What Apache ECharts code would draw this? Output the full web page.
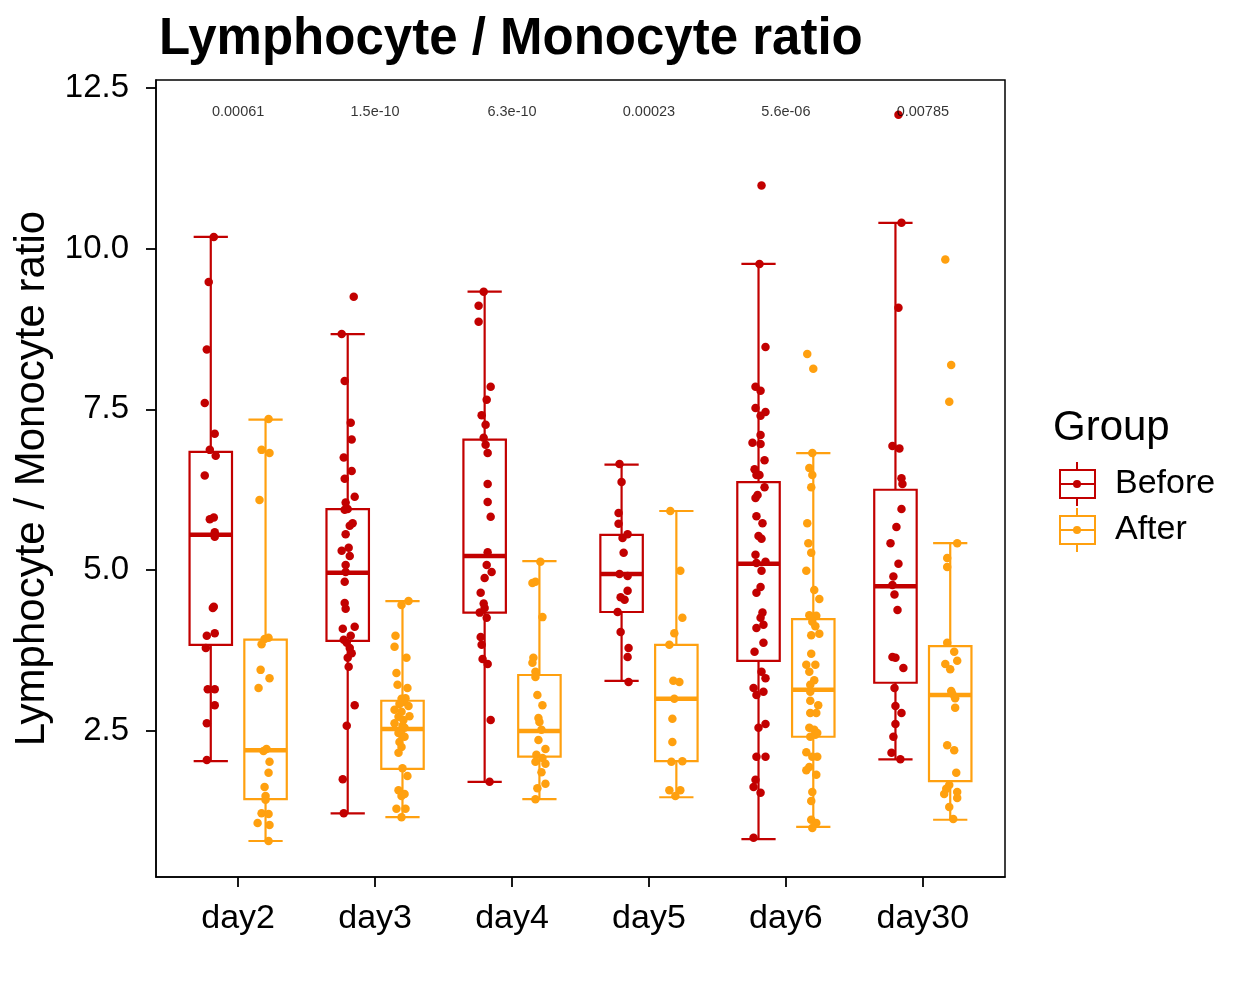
<!DOCTYPE html>
<html><head><meta charset="utf-8">
<script src="https://cdn.jsdelivr.net/npm/echarts@6/dist/echarts.min.js"></script>
<style>html,body{margin:0;padding:0;background:#fff}#c{width:1248px;height:998px}</style>
</head><body><div id="c"></div>
<script>
// ---------------- data ----------------
const categories = ['day2', 'day3', 'day4', 'day5', 'day6', 'day30'];
const pValues = ['0.00061', '1.5e-10', '6.3e-10', '0.00023', '5.6e-06', '0.00785'];
const yTicks = [2.5, 5, 7.5, 10, 12.5];
const groups = ['Before', 'After'];

// box statistics: [lower whisker, Q1, median, Q3, upper whisker]
const beforeStats = [
  [2.03, 3.84, 5.55, 6.84, 10.18],
  [1.22, 3.90, 4.96, 5.95, 8.67],
  [1.71, 4.34, 5.22, 7.03, 9.33],
  [3.28, 4.35, 4.94, 5.55, 6.64],
  [0.82, 3.59, 5.10, 6.37, 9.76],
  [2.06, 3.25, 4.75, 6.25, 10.40]
];
const afterStats = [
  [0.79, 1.44, 2.20, 3.92, 7.34],
  [1.16, 1.91, 2.53, 2.97, 4.52],
  [1.44, 2.10, 2.50, 3.37, 5.14],
  [1.47, 2.03, 3.00, 3.84, 5.92],
  [1.01, 2.41, 3.14, 4.24, 6.82],
  [1.12, 1.72, 3.06, 3.82, 5.42]
];

// individual observations: [value, jitter (hundredths of a category)]
const day2Before = [[10.18,2.2],[9.48,-1.5],[8.43,-2.9],[7.60,-4.4],[7.12,2.9],[6.87,-0.7],[6.78,3.6],[6.47,-4.4],[5.82,2.2],[5.79,-0.7],[5.59,2.9],[5.52,2.9],[4.43,2.2],[4.41,1.5],[4.02,2.9],[3.98,-2.9],[3.79,-3.6],[3.15,-2.2],[3.15,2.9],[2.90,2.9],[2.62,-2.9],[2.05,-2.9]];
const day2After = [[7.35,2.2],[6.87,-2.9],[6.82,2.9],[6.09,-4.4],[3.95,2.2],[3.93,-0.7],[3.85,-2.9],[3.45,-3.6],[3.32,2.9],[3.17,-5.1],[2.22,0.7],[2.19,-1.5],[2.02,2.9],[1.85,2.2],[1.63,-0.7],[1.49,0],[1.43,0],[1.22,-2.9],[1.21,2.2],[1.07,-5.8],[1.04,2.9],[0.79,2.2]];
const day3Before = [[9.25,4.4],[8.67,-4.4],[7.94,-2.2],[7.29,2.2],[7.03,2.9],[6.75,-2.9],[6.54,2.9],[6.42,-2.2],[6.14,5.1],[6.05,-1.5],[5.95,0],[5.94,-2.2],[5.73,3.6],[5.69,1.5],[5.56,-1.5],[5.35,0.7],[5.30,-4.4],[5.22,1.5],[5.08,-1.5],[4.97,-1.5],[4.82,-2.2],[4.49,-2.2],[4.40,-1.5],[4.12,5.1],[4.09,-3.6],[3.98,2.2],[3.92,-2.9],[3.87,-0.7],[3.79,1.5],[3.71,2.9],[3.64,0],[3.50,0.7],[2.90,5.1],[2.58,-0.7],[1.75,-3.6],[1.22,-2.9]];
const day3After = [[4.52,4.4],[4.46,-0.7],[3.98,-5.1],[3.81,-5.8],[3.64,2.9],[3.40,-4.4],[3.22,-3.6],[3.17,3.6],[3.01,2.2],[3.00,-0.7],[2.95,0.7],[2.92,-2.2],[2.89,4.4],[2.83,-5.8],[2.80,-0.7],[2.73,5.1],[2.72,-2.9],[2.67,0.7],[2.62,-5.8],[2.58,0],[2.55,1.5],[2.50,-1.5],[2.47,-2.9],[2.44,-0.7],[2.41,1.5],[2.33,-2.2],[2.25,-0.7],[2.16,-2.9],[1.92,0],[1.80,3.6],[1.58,-2.9],[1.52,1.5],[1.49,-0.7],[1.29,-4.4],[1.29,2.2],[1.16,-0.7]];
const day4Before = [[9.33,-0.7],[9.11,-4.4],[8.86,-4.4],[7.85,4.4],[7.65,1.5],[7.41,-2.2],[7.26,0.7],[7.06,-0.7],[6.95,0.7],[6.82,2.2],[6.34,2.2],[6.06,2.2],[5.83,4.4],[5.28,2.2],[5.08,1.5],[4.97,5.1],[4.88,0],[4.65,-2.9],[4.48,-0.7],[4.41,0],[4.34,-3.6],[4.26,1.5],[3.96,-2.9],[3.84,-2.2],[3.62,-1.5],[3.54,2.2],[2.67,4.4],[1.71,3.6]];
const day4After = [[5.13,0.7],[4.82,-2.9],[4.80,-5.1],[4.27,2.2],[3.64,-4.4],[3.56,-5.1],[3.42,-2.9],[3.34,-2.9],[3.06,-1.5],[2.90,2.2],[2.70,-0.7],[2.64,0],[2.52,1.5],[2.36,-0.7],[2.22,4.4],[2.13,-2.2],[2.08,2.2],[2.02,-2.9],[1.99,4.4],[1.86,1.5],[1.68,4.4],[1.61,-1.5],[1.44,-2.9]];
const day5Before = [[6.65,-1.5],[6.37,0],[5.89,-2.2],[5.72,-2.2],[5.56,4.4],[5.50,0.7],[5.27,1.5],[4.94,-1.5],[4.91,4.4],[4.68,4.4],[4.58,-0.7],[4.54,2.2],[4.35,-2.9],[4.04,-0.7],[3.79,5.1],[3.65,4.4],[3.26,5.1]];
const day5After = [[5.92,-4.4],[4.99,2.9],[4.26,4.4],[4.02,-1.5],[3.84,-5.1],[3.28,-2.2],[3.26,2.2],[3.00,-1.5],[2.69,-2.9],[2.33,-2.9],[2.03,4.4],[2.02,-3.6],[1.58,-5.1],[1.58,2.9],[1.49,-0.7]];
const day6Before = [[10.98,2.2],[9.76,0.7],[8.47,5.1],[7.85,-2.2],[7.79,1.5],[7.52,-2.2],[7.46,5.1],[7.40,1.5],[7.10,1.5],[6.98,-4.4],[6.96,1.5],[6.71,4.4],[6.57,-2.9],[6.48,0.7],[6.48,-1.5],[6.29,4.4],[6.17,-0.7],[6.12,-2.2],[5.84,-1.5],[5.73,2.9],[5.53,0],[5.49,2.2],[5.24,-2.2],[5.13,5.1],[5.11,-1.5],[4.99,2.2],[4.74,1.5],[4.65,-1.5],[4.34,2.9],[4.26,1.5],[4.15,3.6],[4.10,-1.5],[3.87,3.6],[3.73,-2.9],[3.42,2.2],[3.32,5.1],[3.17,-3.6],[3.11,3.6],[3.06,-1.5],[2.61,5.1],[2.55,0],[2.10,-1.5],[2.10,5.1],[1.74,-2.2],[1.63,-3.6],[1.54,1.5],[0.84,-3.6]];
const day6After = [[8.36,-4.4],[8.13,0],[6.82,-0.7],[6.59,-2.9],[6.48,-0.7],[6.29,-1.5],[5.73,-4.4],[5.42,-3.6],[5.27,-1.5],[4.99,-5.1],[4.69,0.7],[4.55,4.4],[4.30,-2.9],[4.29,2.2],[4.20,-0.7],[4.13,1.5],[4.01,4.4],[3.99,-1.5],[3.70,-1.5],[3.53,-5.1],[3.53,1.5],[3.42,-2.9],[3.29,0.7],[3.22,-2.2],[3.11,-2.2],[2.97,-2.2],[2.90,3.6],[2.78,-2.2],[2.78,2.2],[2.55,-2.9],[2.52,0.7],[2.47,2.9],[2.44,1.5],[2.41,-2.2],[2.17,-5.1],[2.10,2.9],[2.10,-0.7],[1.94,-2.9],[1.89,-5.1],[1.82,2.2],[1.55,-0.7],[1.41,-1.5],[1.12,-1.5],[1.07,2.2],[0.99,-0.7]];
const day30Before = [[12.08,2.2],[10.40,4.4],[9.08,2.2],[6.93,-2.2],[6.89,2.9],[6.43,4.4],[6.34,5.1],[5.95,4.4],[5.67,0.7],[5.42,-3.6],[5.10,2.2],[4.90,-1.5],[4.77,-2.2],[4.62,-0.7],[4.38,1.5],[3.65,-2.2],[3.64,0],[3.48,5.8],[3.17,-0.7],[2.89,0],[2.78,4.4],[2.61,0],[2.41,-1.5],[2.16,-2.9],[2.06,3.6]];
const day30After = [[9.83,-3.6],[8.19,0.7],[7.62,-0.7],[5.42,5.1],[5.19,-2.2],[5.05,-2.2],[3.87,-2.2],[3.73,2.9],[3.59,5.1],[3.54,-3.6],[3.46,0],[3.12,0.7],[3.08,1.5],[3.01,3.6],[2.86,3.6],[2.28,-2.2],[2.20,2.9],[1.85,4.4],[1.66,-0.7],[1.60,-2.9],[1.55,5.1],[1.52,-4.4],[1.46,5.1],[1.32,-0.7],[1.13,2.2]];

const beforePoints = [day2Before, day3Before, day4Before, day5Before, day6Before, day30Before];
const afterPoints = [day2After, day3After, day4After, day5After, day6After, day30After];

// ---------------- styling / layout ----------------
const RED = '#C20000';
const ORANGE = '#FFA00F';
const FONT = 'Liberation Sans, Arial, Helvetica, sans-serif';
const DODGE = 0.2;     // group offset in category units
const BOX_W = 0.31;    // box width in category units
const CAP_W = 0.25;    // whisker cap width in category units
const PV_Y = 12.13;    // height of p-value labels (data units)

const chart = echarts.init(document.getElementById('c'), null, { renderer: 'canvas' });

function boxRender(color) {
  return function (params, api) {
    const x = api.value(0);
    const pLo = api.coord([x, api.value(1)]);
    const pQ1 = api.coord([x, api.value(2)]);
    const pMed = api.coord([x, api.value(3)]);
    const pQ3 = api.coord([x, api.value(4)]);
    const pHi = api.coord([x, api.value(5)]);
    const hb = api.size([BOX_W, 0])[0] / 2;
    const hc = api.size([CAP_W, 0])[0] / 2;
    const cx = pLo[0];
    const ls = { stroke: color, lineWidth: 2.2 };
    return {
      type: 'group',
      children: [
        { type: 'line', shape: { x1: cx, y1: pHi[1], x2: cx, y2: pQ3[1] }, style: ls },
        { type: 'line', shape: { x1: cx, y1: pQ1[1], x2: cx, y2: pLo[1] }, style: ls },
        { type: 'line', shape: { x1: cx - hc, y1: pHi[1], x2: cx + hc, y2: pHi[1] }, style: ls },
        { type: 'line', shape: { x1: cx - hc, y1: pLo[1], x2: cx + hc, y2: pLo[1] }, style: ls },
        { type: 'rect', shape: { x: cx - hb, y: pQ3[1], width: 2 * hb, height: pQ1[1] - pQ3[1] },
          style: { fill: '#ffffff', stroke: color, lineWidth: 2.2 } },
        { type: 'line', shape: { x1: cx - hb, y1: pMed[1], x2: cx + hb, y2: pMed[1] },
          style: { stroke: color, lineWidth: 4.5 } }
      ]
    };
  };
}

const tickPos = categories.map((c, i) => i + 1);

function legendKey(y, color, label) {
  return [
    { type: 'line', shape: { x1: 1077, y1: y - 22, x2: 1077, y2: y + 22 }, style: { stroke: color, lineWidth: 2 } },
    { type: 'rect', shape: { x: 1060, y: y - 14, width: 35, height: 28 }, style: { fill: '#fff', stroke: color, lineWidth: 2 } },
    { type: 'line', shape: { x1: 1060, y1: y, x2: 1095, y2: y }, style: { stroke: color, lineWidth: 2 } },
    { type: 'circle', shape: { cx: 1077, cy: y, r: 4 }, style: { fill: color } },
    { type: 'text', style: { text: label, x: 1115, y: y, fontSize: 34, fontFamily: FONT, fill: '#000', verticalAlign: 'middle', align: 'left' } }
  ];
}

const option = {
  backgroundColor: '#ffffff',
  animation: false,
  title: {
    text: 'Lymphocyte / Monocyte ratio',
    left: 154, top: 9,
    textStyle: { fontSize: 51, fontWeight: 'bold', color: '#000', fontFamily: FONT }
  },
  grid: { left: 156, right: 243, top: 80, bottom: 121, show: true, borderColor: '#000', borderWidth: 1.5, containLabel: false },
  xAxis: {
    type: 'value', min: 0.4, max: 6.6,
    splitLine: { show: false },
    axisLine: { show: true, lineStyle: { color: '#000', width: 1.5 } },
    axisTick: { show: true, customValues: tickPos, length: 10, lineStyle: { color: '#000', width: 1.8 } },
    axisLabel: { customValues: tickPos, formatter: v => categories[Math.round(v) - 1] || '', fontSize: 34, color: '#000', margin: 25, fontFamily: FONT }
  },
  yAxis: {
    type: 'value', min: 0.23, max: 12.62,
    name: 'Lymphocyte / Monocyte ratio', nameLocation: 'middle', nameGap: 100,
    nameTextStyle: { fontSize: 42, color: '#000', fontFamily: FONT },
    splitLine: { show: false },
    axisLine: { show: true, lineStyle: { color: '#000', width: 1.5 } },
    axisTick: { show: true, customValues: yTicks, length: 10, lineStyle: { color: '#000', width: 1.8 } },
    axisLabel: { customValues: yTicks, formatter: v => Number(v).toFixed(1), fontSize: 33, color: '#000', margin: 27, fontFamily: FONT }
  },
  series: [
    { type: 'custom', name: 'Before', renderItem: boxRender(RED), z: 2,
      encode: { x: 0, y: [1, 2, 3, 4, 5] },
      data: beforeStats.map((s, i) => [i + 1 - DODGE, ...s]) },
    { type: 'custom', name: 'After', renderItem: boxRender(ORANGE), z: 2,
      encode: { x: 0, y: [1, 2, 3, 4, 5] },
      data: afterStats.map((s, i) => [i + 1 + DODGE, ...s]) },
    { type: 'scatter', name: 'Before', symbolSize: 8.5, z: 5, itemStyle: { color: RED, opacity: 1 },
      data: beforePoints.flatMap((pts, i) => pts.map(([v, j]) => [i + 1 - DODGE + j / 100, v])) },
    { type: 'scatter', name: 'After', symbolSize: 8.5, z: 5, itemStyle: { color: ORANGE, opacity: 1 },
      data: afterPoints.flatMap((pts, i) => pts.map(([v, j]) => [i + 1 + DODGE + j / 100, v])) },
    { type: 'scatter', name: 'p', symbolSize: 1, z: 6, silent: true,
      itemStyle: { color: 'rgba(0,0,0,0)' },
      label: { show: true, position: 'inside', formatter: p => p.value[2], fontSize: 14.5, color: '#000', fontFamily: FONT },
      data: pValues.map((p, i) => [i + 1, PV_Y, p]) }
  ],
  graphic: [
    { type: 'text', style: { text: 'Group', x: 1053, y: 428, fontSize: 42, fontFamily: FONT, fill: '#000', verticalAlign: 'middle', align: 'left' } },
    ...legendKey(484, RED, groups[0]),
    ...legendKey(530, ORANGE, groups[1])
  ]
};
chart.setOption(option);
</script>
</body></html>
